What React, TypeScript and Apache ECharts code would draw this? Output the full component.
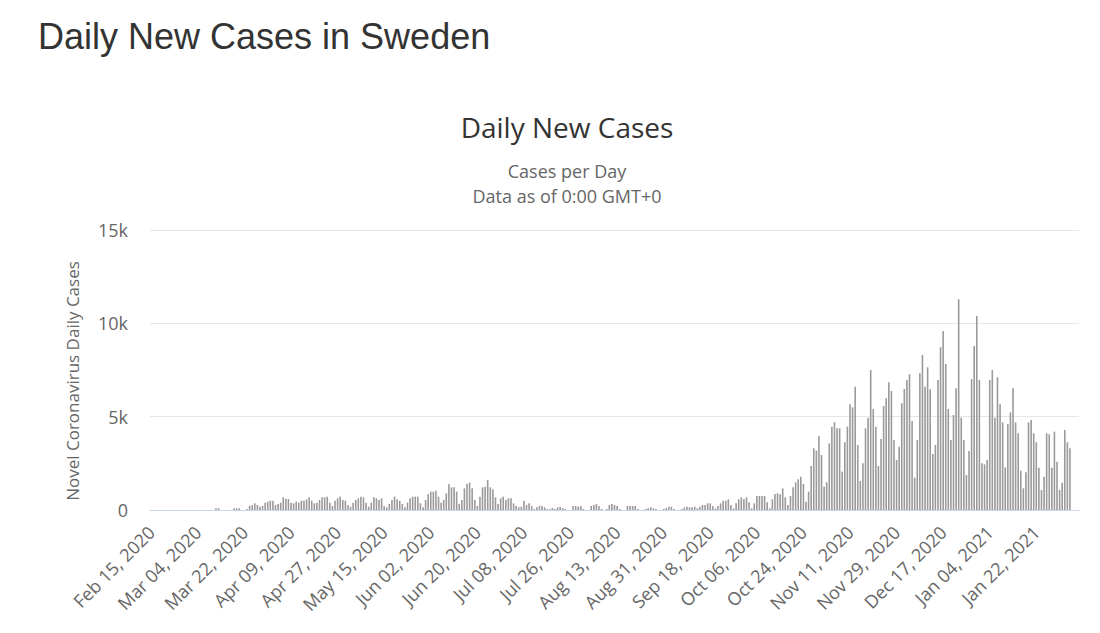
import React, { useEffect, useRef } from "react";
import * as echarts from "echarts";

const START_DATE = "2020-02-15";
const MONTHS = ["Jan","Feb","Mar","Apr","May","Jun","Jul","Aug","Sep","Oct","Nov","Dec"];

// Feb 15 – Mar 23 2020
const casesEarly = [
  0,0,0,0,0,0,0,0,0,0,0,0,0,0,0,0,0,0,0,0,0,0,0,0,0,
  90,90,0,0,0,0,0,90,90,90,0,0,55,
];
// Mar 24 – Apr 22
const casesSpring = [
  214,268,357,268,179,214,393,447,500,500,268,321,393,679,589,589,393,357,447,393,
  500,500,572,679,500,357,393,536,679,679,
];
// Apr 23 – Jul 10
const casesEarlySummer = [
  714,393,214,500,625,714,536,500,268,179,
  393,536,625,714,679,393,179,393,679,625,
  536,625,214,143,321,536,714,572,500,321,
  143,393,625,714,714,714,357,143,536,857,
  982,982,1036,714,393,536,893,1393,1214,1214,
  982,321,536,1161,1393,1464,1161,536,214,714,
  1214,1250,1607,1214,1107,679,321,625,714,536,
  625,625,357,214,143,179,500,268,357,
];
// Jul 11 – Sep 13
const casesLateSummer = [
  214,54,143,214,214,143,54,54,107,54,143,179,107,54,0,0,
  214,214,179,214,54,0,0,
  214,268,321,214,54,0,54,
  268,321,268,214,54,0,0,
  214,214,214,214,54,0,0,
  54,89,143,89,54,0,0,
  54,107,179,179,54,0,0,
  54,143,179,143,143,179,89,
];
// Sep 14 – Oct 30
const casesAutumn = [
  179,268,268,357,357,214,89,214,357,500,
  500,572,268,89,357,572,679,572,679,411,
  89,357,750,750,750,750,411,89,572,857,
  893,839,1161,679,268,750,1214,1482,1643,1786,
  1393,447,982,2357,3304,3179,3965,
];
// Oct 31 – Dec 15
const casesNovember = [
  2947,1250,1482,3572,4465,4697,4376,4376,2054,3626,
  4465,5662,5501,6608,3483,1554,2500,4376,4947,7501,
  5412,4465,2357,3804,5572,5983,6840,6376,3751,2679,
  3393,5715,6483,6965,7269,4769,1732,3751,7323,8305,
  6608,7644,6465,3000,3483,6965,
];
// Dec 16 2020 – Feb 8 2021
const casesWinter = [
  8716,9591,7823,5412,3751,5090,6519,11288,4947,3751,
  1875,3161,7019,8787,10395,6965,2500,2447,2679,6965,
  7501,4947,7108,5662,4697,2286,4608,5233,6519,4697,
  4108,2107,1161,2018,4697,4822,4108,3626,2268,1072,
  1786,4108,4054,2268,4197,2590,1072,1465,4286,3626,
  3304,0,0,0,
];

const dailyCases = [
  ...casesEarly, ...casesSpring, ...casesEarlySummer, ...casesLateSummer,
  ...casesAutumn, ...casesNovember, ...casesWinter,
];

function buildCategories(n: number): string[] {
  const out: string[] = [];
  const d0 = new Date(START_DATE + "T00:00:00Z");
  for (let i = 0; i < n; i++) {
    const d = new Date(d0.getTime() + i * 86400000);
    const dd = String(d.getUTCDate()).padStart(2, "0");
    out.push(`${MONTHS[d.getUTCMonth()]} ${dd}, ${d.getUTCFullYear()}`);
  }
  return out;
}

const categories = buildCategories(dailyCases.length);

const FONT = "'Open Sans', 'Noto Sans', sans-serif";

export default function App() {
  const ref = useRef<HTMLDivElement>(null);
  useEffect(() => {
    if (!ref.current) return;
    const chart = echarts.init(ref.current, undefined, { renderer: "svg" });
    chart.setOption({
      animation: false,
      backgroundColor: "#ffffff",
      graphic: [
        {
          type: "text",
          x: 38,
          y: 36,
          style: {
            text: "Daily New Cases in Sweden",
            fontFamily: "'Liberation Sans', Arial, sans-serif",
            fontSize: 36,
            fill: "#333333",
            textAlign: "left",
            textVerticalAlign: "middle",
          },
        },
        {
          type: "text",
          x: 567,
          y: 127,
          style: {
            text: "Daily New Cases",
            fontFamily: FONT,
            fontSize: 28,
            fill: "#333333",
            textAlign: "center",
            textVerticalAlign: "middle",
          },
        },
        {
          type: "text",
          x: 567,
          y: 171,
          style: {
            text: "Cases per Day",
            fontFamily: FONT,
            fontSize: 18,
            fill: "#666666",
            textAlign: "center",
            textVerticalAlign: "middle",
          },
        },
        {
          type: "text",
          x: 567,
          y: 196,
          style: {
            text: "Data as of 0:00 GMT+0",
            fontFamily: FONT,
            fontSize: 18,
            fill: "#666666",
            textAlign: "center",
            textVerticalAlign: "middle",
          },
        },
        {
          type: "text",
          x: 72,
          y: 381,
          rotation: Math.PI / 2,
          style: {
            text: "Novel Coronavirus Daily Cases",
            fontFamily: FONT,
            fontSize: 17,
            fill: "#666666",
            textAlign: "center",
            textVerticalAlign: "middle",
          },
        },
      ],
      grid: { left: 150, right: 21, top: 230, bottom: 123, containLabel: false },
      xAxis: {
        type: "category",
        data: categories,
        boundaryGap: true,
        axisLine: { lineStyle: { color: "#ccd6eb" } },
        axisTick: { show: false },
        axisLabel: {
          interval: 17,
          rotate: 45,
          margin: 19,
          fontFamily: FONT,
          fontSize: 18,
          color: "#666666",
        },
      },
      yAxis: {
        type: "value",
        min: 0,
        max: 15000,
        interval: 5000,
        axisLine: { show: false },
        axisTick: { show: false },
        splitLine: { lineStyle: { color: "#e6e6e6" } },
        axisLabel: {
          margin: 22,
          fontFamily: FONT,
          fontSize: 18,
          color: "#666666",
          formatter: (v: number) => (v === 0 ? "0" : v / 1000 + "k"),
        },
      },
      series: [
        {
          type: "bar",
          name: "Daily Cases",
          data: dailyCases,
          barWidth: "62%",
          itemStyle: { color: "#9a9a9a" },
        },
      ],
    });
    return () => chart.dispose();
  }, []);
  return (
    <div
      ref={ref}
      style={{ position: "fixed", left: 0, top: 0, width: 1100, height: 633 }}
    />
  );
}
